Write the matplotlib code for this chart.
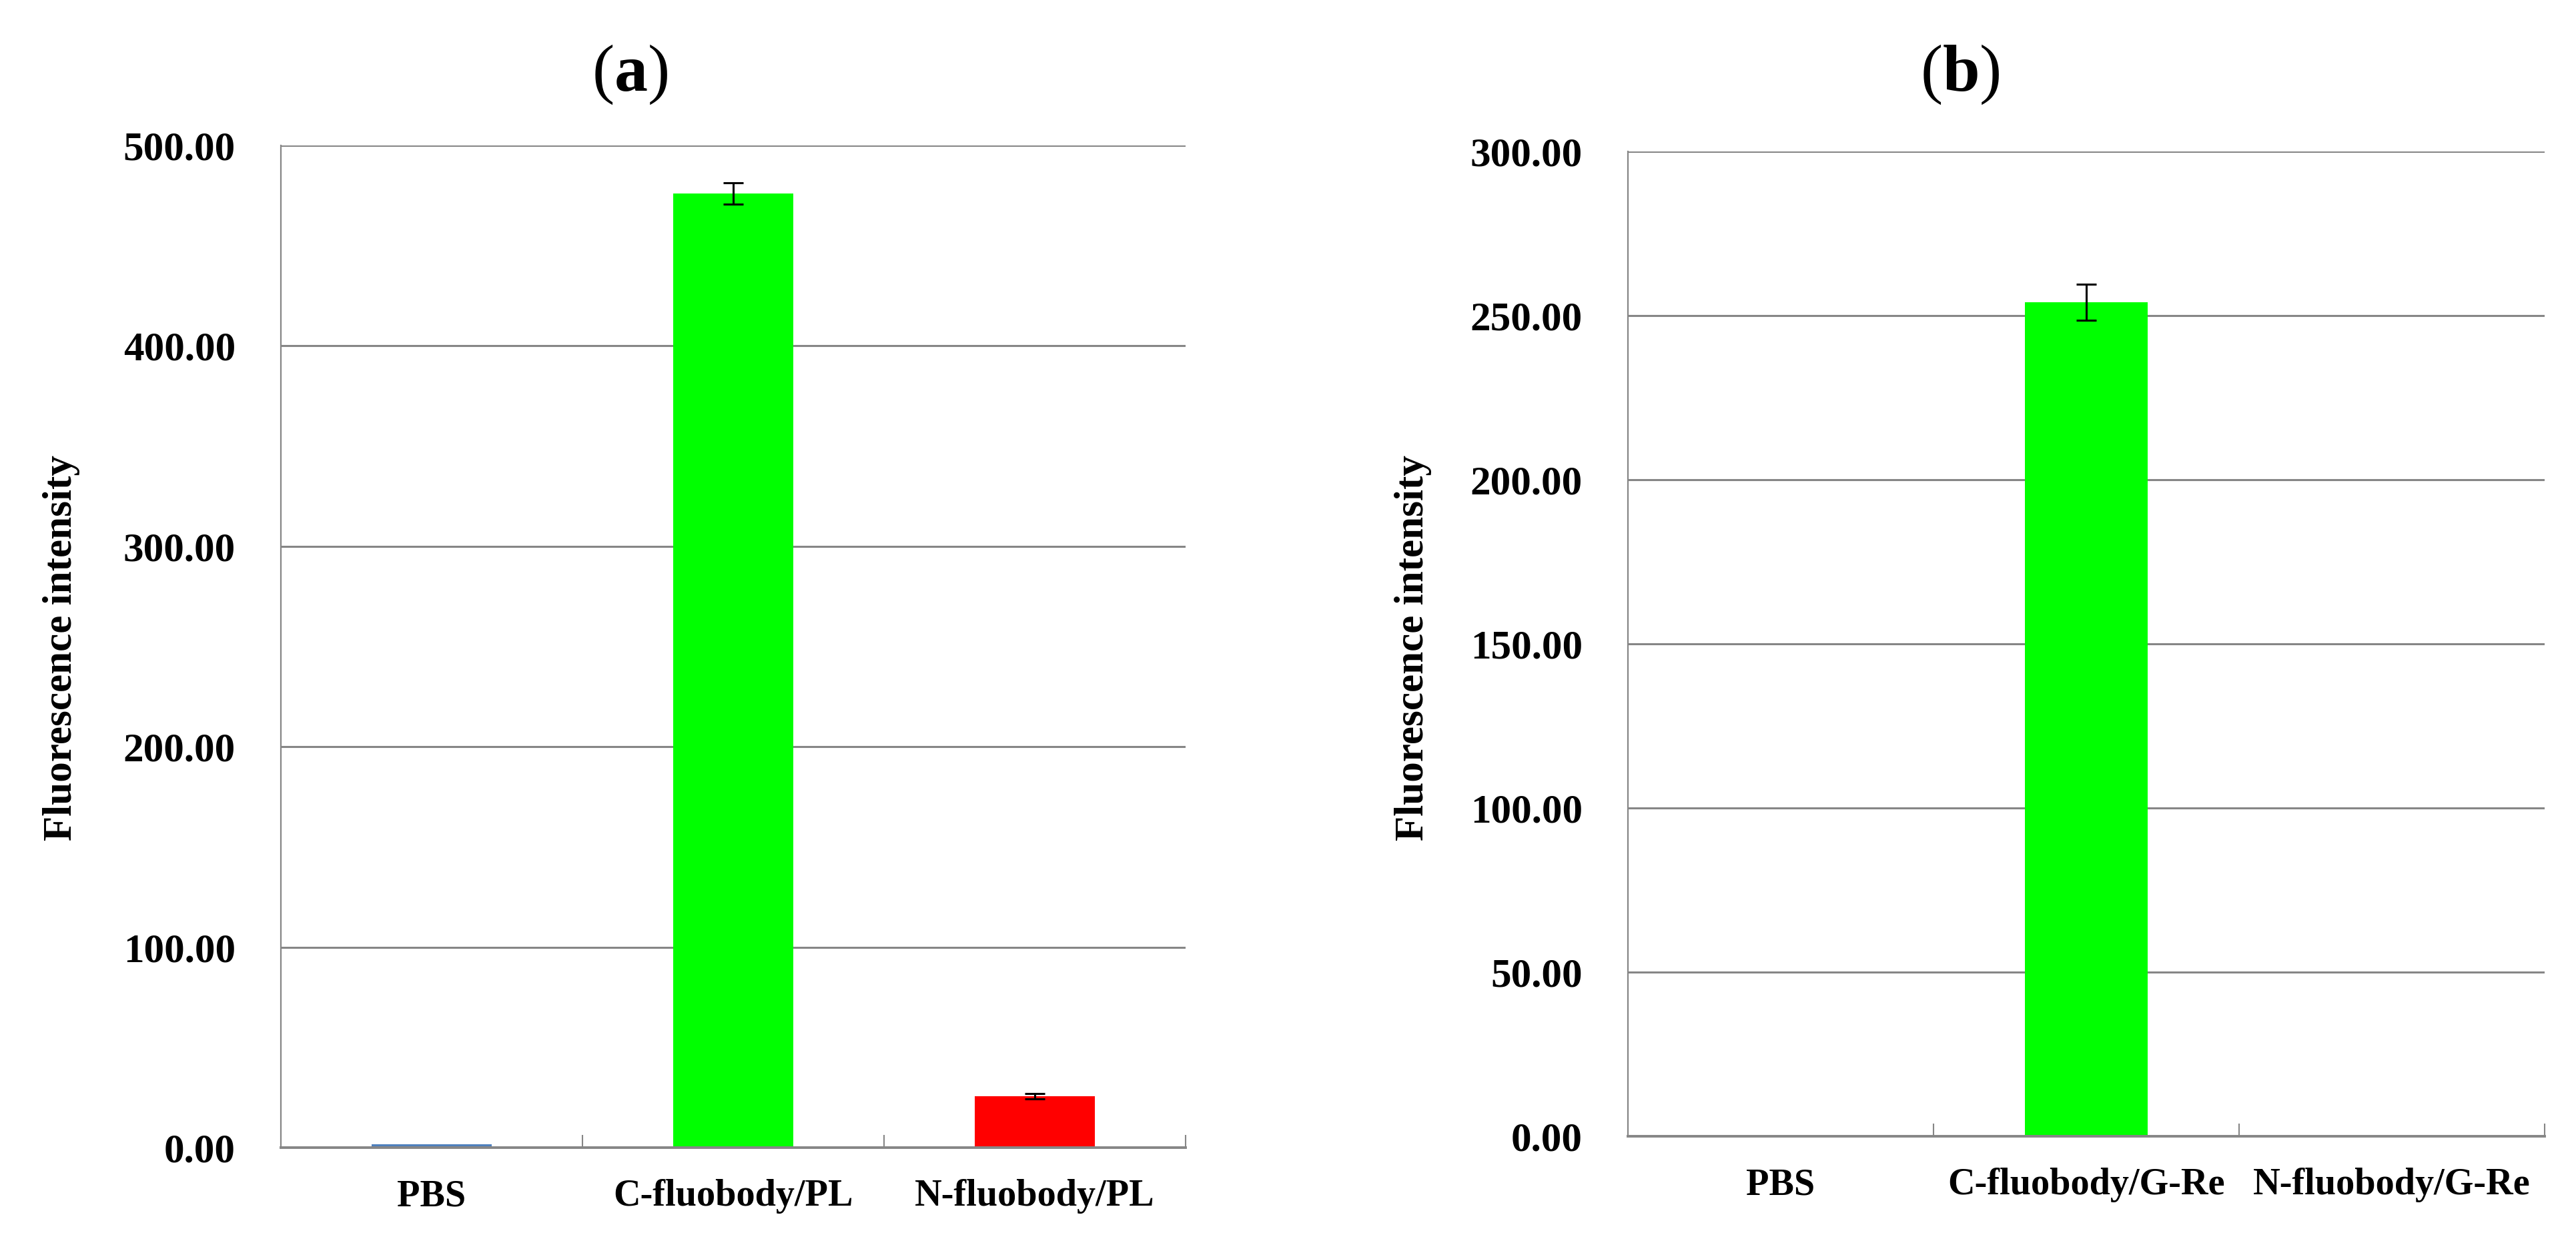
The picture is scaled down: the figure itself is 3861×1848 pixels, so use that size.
import matplotlib
matplotlib.use("Agg")
import matplotlib.pyplot as plt
import numpy as np

plt.rcParams['font.family'] = ['Liberation Serif', 'DejaVu Serif']
plt.rcParams['mathtext.fontset'] = 'custom'
plt.rcParams['mathtext.rm'] = 'Liberation Serif'
plt.rcParams['mathtext.bf'] = 'Liberation Serif:bold'

# panel (a)
labels_a = ['PBS', 'C-fluobody/PL', 'N-fluobody/PL']
values_a = [1.5, 476.0, 25.6]
errors_a = [0.0, 5.3, 1.4]
colors_a = ['#4F81BD', '#00FF00', '#FF0000']
yticks_a = [0, 100, 200, 300, 400, 500]

# panel (b)
labels_b = ['PBS', 'C-fluobody/G-Re', 'N-fluobody/G-Re']
values_b = [0.0, 254.0, 0.0]
errors_b = [0.0, 5.5, 0.0]
colors_b = ['#4F81BD', '#00FF00', '#FF0000']
yticks_b = [0, 50, 100, 150, 200, 250, 300]

GRID = '#868686'
FS_Y = 44
FS_X = 40.5

fig = plt.figure(figsize=(38.62, 18.48), dpi=100)
ax_a = fig.add_axes([0.1090, 0.0693, 0.3511, 0.8127])
ax_b = fig.add_axes([0.6318, 0.0785, 0.3558, 0.7987])


def draw(ax, labels, values, errors, colors, yticks):
    x = np.arange(len(labels))
    ax.set_axisbelow(True)
    for t in yticks[1:]:
        ax.axhline(t, color=GRID, lw=2.2, zorder=0)
    errs = [e if e > 0 else np.nan for e in errors]
    ax.bar(x, values, width=0.4, color=colors, zorder=2)
    ax.errorbar(x, values, yerr=errs, fmt='none', ecolor='black',
                elinewidth=2.2, capsize=11, capthick=2.2, zorder=3)
    ax.set_xlim(-0.5, len(labels) - 0.5)
    ax.set_ylim(yticks[0], yticks[-1])
    ax.set_yticks(yticks)
    ax.set_yticklabels(['%.2f' % t for t in yticks], fontsize=FS_Y, fontweight='bold')
    ax.tick_params(axis='y', length=0, pad=49)
    # category boundary ticks
    ax.set_xticks(np.arange(len(labels)) + 0.5)
    ax.set_xticklabels([])
    ax.set_xticks(x, minor=True)
    ax.set_xticklabels(labels, minor=True, fontsize=FS_X, fontweight='bold')
    ax.tick_params(axis='x', which='major', direction='in', length=14,
                   width=1.5, color=GRID)
    ax.tick_params(axis='x', which='minor', length=0, pad=34)
    for s in ['top', 'right']:
        ax.spines[s].set_visible(False)
    ax.spines['left'].set_color(GRID)
    ax.spines['left'].set_linewidth(1.6)
    ax.spines['bottom'].set_color(GRID)
    ax.spines['bottom'].set_linewidth(2.8)


draw(ax_a, labels_a, values_a, errors_a, colors_a, yticks_a)
draw(ax_b, labels_b, values_b, errors_b, colors_b, yticks_b)

fig.text(0.0239, 0.4745, 'Fluorescence intensity', rotation=90, ha='center',
         va='center', fontsize=FS_Y, fontweight='bold')
fig.text(0.5485, 0.4745, 'Fluorescence intensity', rotation=90, ha='center',
         va='center', fontsize=FS_Y, fontweight='bold')

fig.text(0.2444, 0.9394, r'($\mathbf{a}$)', ha='center', va='center', fontsize=72)
fig.text(0.7607, 0.9394, r'($\mathbf{b}$)', ha='center', va='center', fontsize=72)

fig.savefig('out.png', dpi=100)
